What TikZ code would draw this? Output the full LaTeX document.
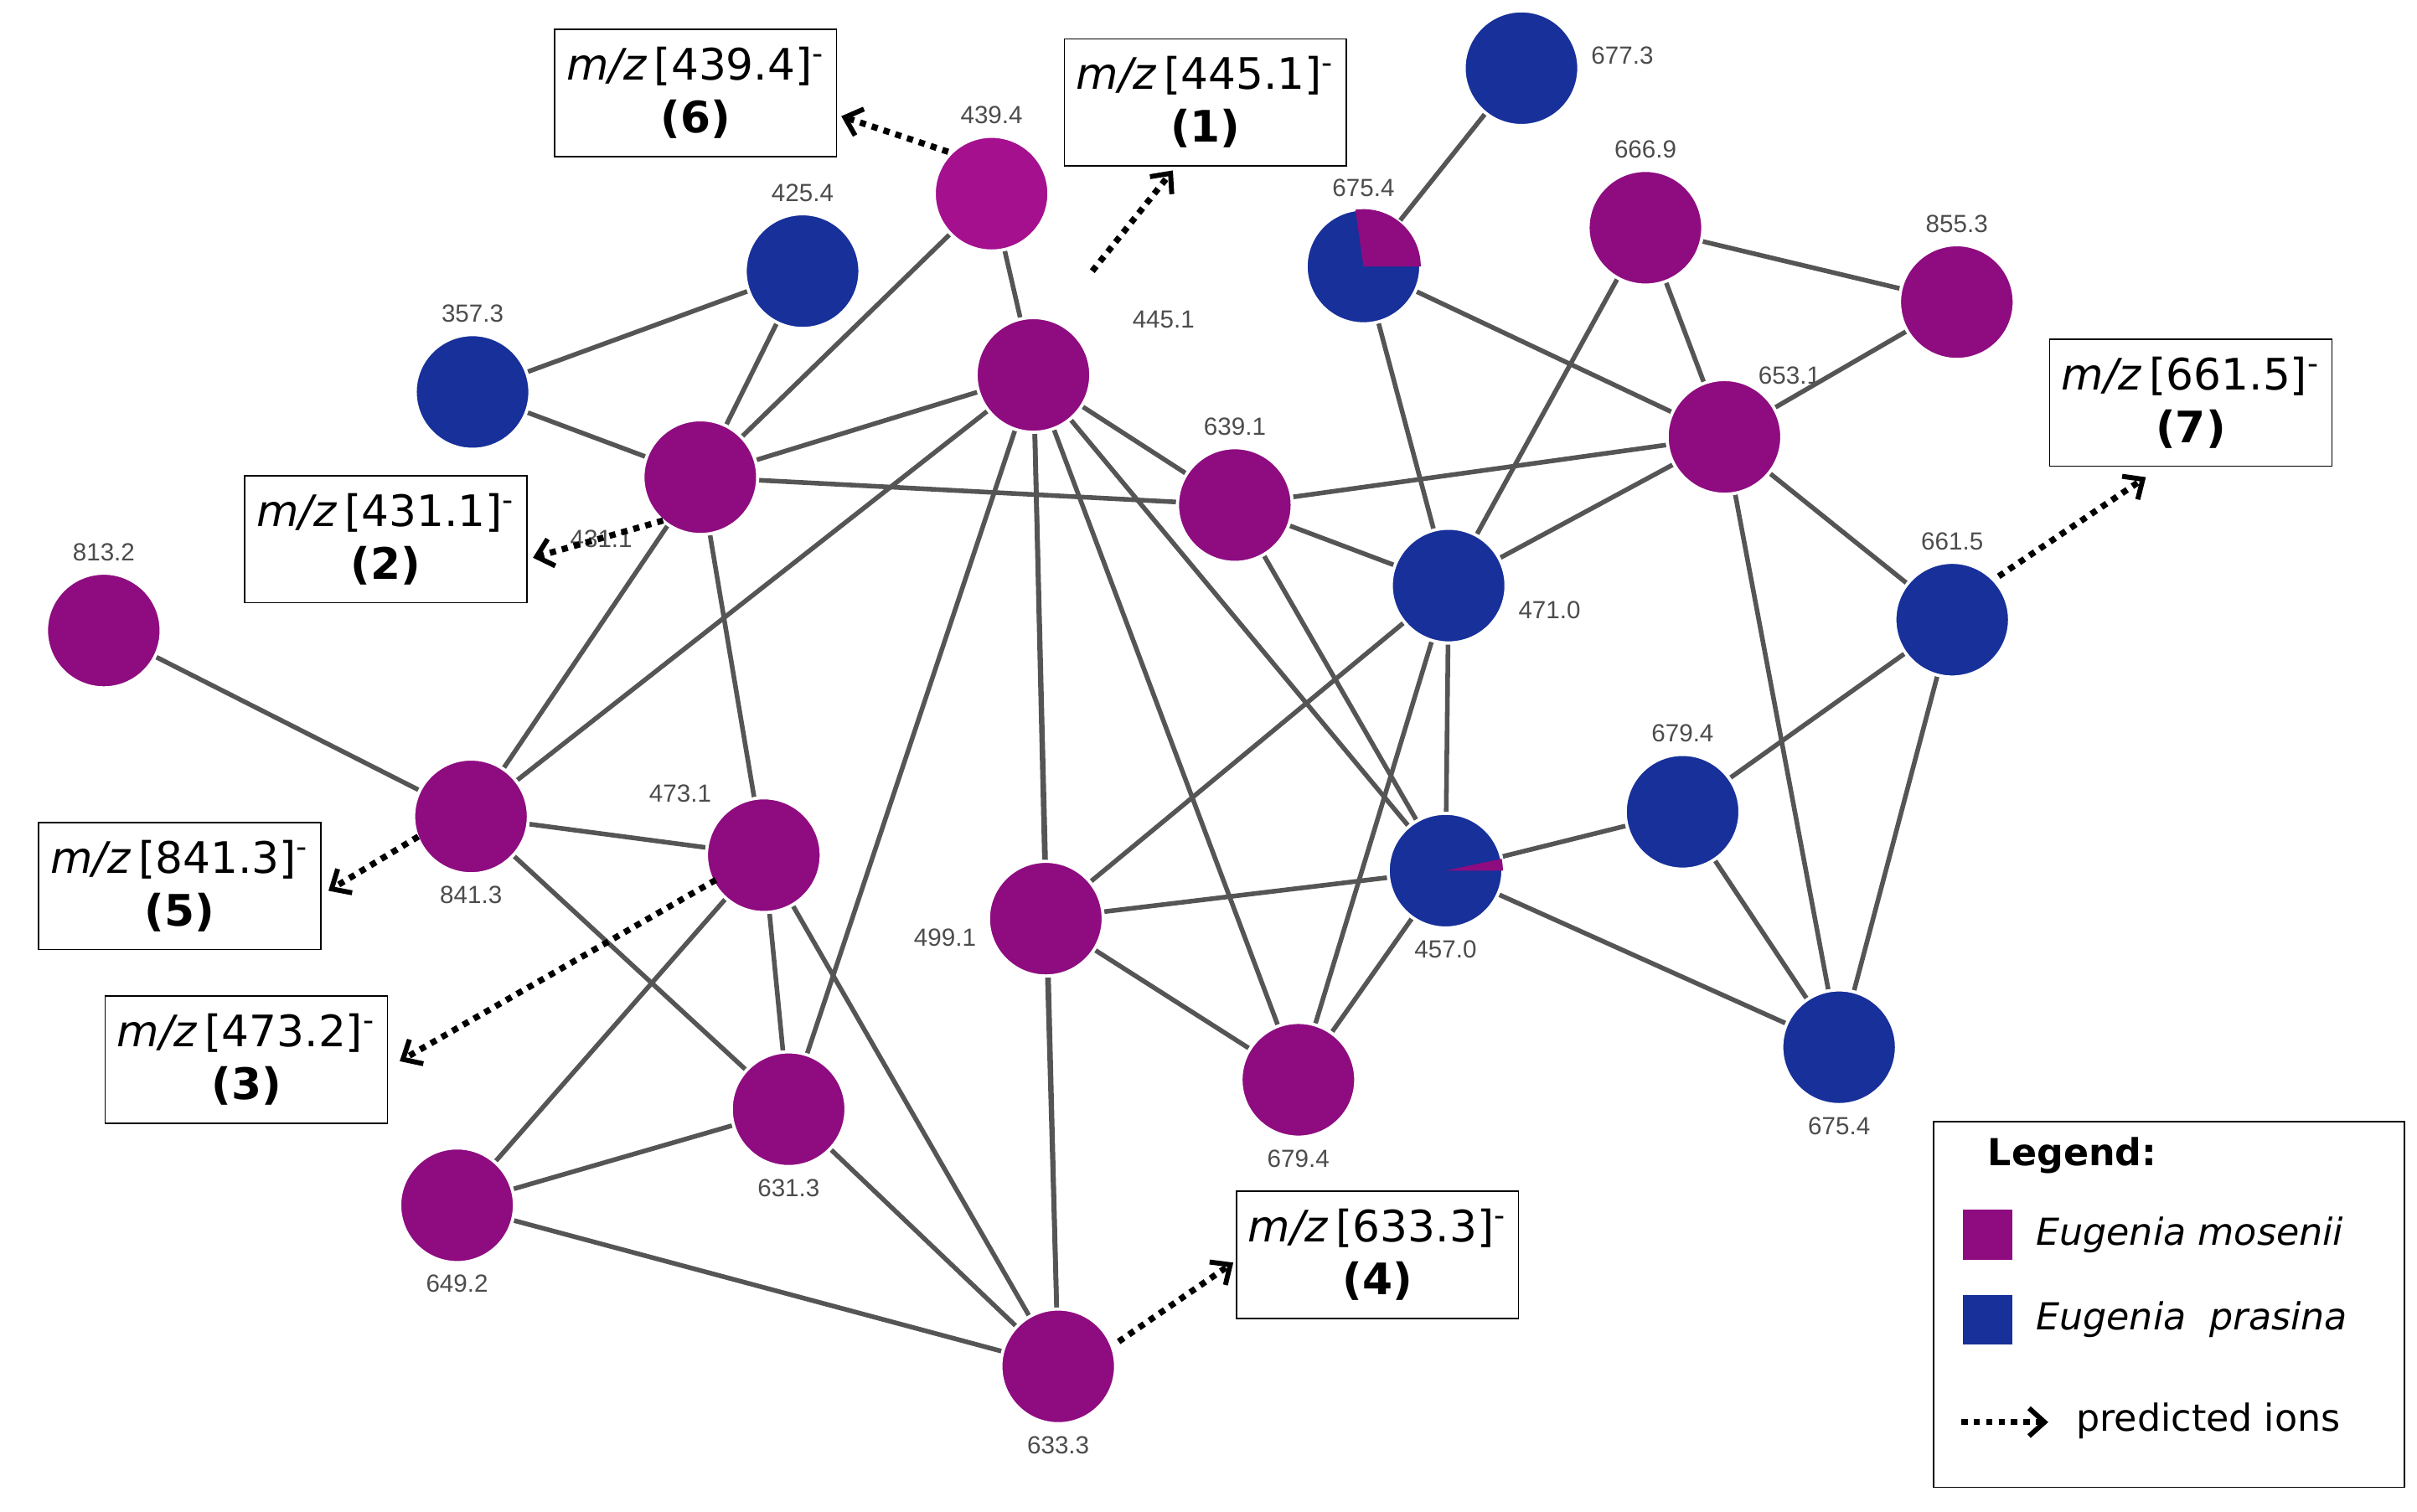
\documentclass[tikz,border=0pt]{standalone}
\usepackage{fontspec}
\setmainfont{DejaVu Sans}
\newfontfamily\lab{Liberation Sans}
\usetikzlibrary{arrows.meta}
\definecolor{mg}{HTML}{8E0C80}
\definecolor{mgl}{HTML}{A5108F}
\definecolor{bl}{HTML}{17309A}
\definecolor{eg}{HTML}{555555}
\begin{document}
\begin{tikzpicture}[x=0.5pt,y=-0.5pt,
 nd/.style={circle,minimum size=37pt,inner sep=0pt,draw=white,line width=1pt,label distance=1pt},
 lb/.style={font=\lab\fontsize{8}{9}\selectfont,text=black!70},
 mag/.style={nd,fill=mg}, blu/.style={nd,fill=bl},
 ed/.style={eg,line width=1.5pt},
 pa/.style={dotted,line width=2pt,-{Straight Barb[length=5pt,width=9pt,line width=1.6pt]}},
 bx/.style={draw,thin,fill=white,minimum width=91pt,minimum height=41pt,align=center,font=\fontsize{14}{17}\selectfont}]
\useasboundingbox (0,0) rectangle (1560,976);
% nodes
\node[mag,fill=mgl,label={[lb]above:439.4}] (a4394) at (640,125) {};
\node[blu,label={[lb]above:425.4}] (a4254) at (518,175) {};
\node[blu,label={[lb]above:357.3}] (a3573) at (305,253) {};
\node[mag,label={[lb,xshift=-5pt]below left:431.1}] (a4311) at (452,308) {};
\node[mag,label={[lb,xshift=15pt,yshift=-2pt]above right:445.1}] (a4451) at (667,242) {};
\node[mag,label={[lb]above:639.1}] (a6391) at (797,326) {};
\node[mag,label={[lb]above:813.2}] (a8132) at (67,407) {};
\node[mag,label={[lb]below:841.3}] (a8413) at (304,527) {};
\node[mag,label={[lb]above left:473.1}] (a4731) at (493,552) {};
\node[mag,label={[lb]below:631.3}] (a6313) at (509,716) {};
\node[mag,label={[lb]below:649.2}] (a6492) at (295,778) {};
\node[mag,label={[lb]below:633.3}] (a6333) at (683,882) {};
\node[mag,label={[lb,yshift=-6pt]left:499.1}] (a4991) at (675,593) {};
\node[mag,label={[lb]below:679.4}] (a6794m) at (838,697) {};
\node[blu,label={[lb]below:457.0}] (a4570) at (933,562) {};
\node[blu,label={[lb,yshift=-8pt]right:471.0}] (a4710) at (935,378) {};
\node[blu,label={[lb]above:675.4}] (a6754t) at (880,172) {};
\node[blu,label={[lb,yshift=4pt]right:677.3}] (a6773) at (982,44) {};
\node[mag,label={[lb]above:666.9}] (a6669) at (1062,147) {};
\node[mag,label={[lb]above:855.3}] (a8553) at (1263,195) {};
\node[mag,label={[lb,xshift=-6pt]above right:653.1}] (a6531) at (1113,282) {};
\node[blu,label={[lb]above:661.5}] (a6615) at (1260,400) {};
\node[blu,label={[lb]above:679.4}] (a6794b) at (1086,524) {};
\node[blu,label={[lb]below:675.4}] (a6754b) at (1187,676) {};
% edges
\foreach \u/\v in {4394/4311,4394/4451,4254/3573,4254/4311,3573/4311,4311/4451,4311/6391,4311/8413,4311/4731,
4451/6391,4451/8413,4451/4991,4451/6333,4451/6794m,4451/4570,4451/6313,
4731/8413,4731/6313,4731/6333,4731/6492,8413/8132,8413/6313,
6391/4710,6391/4570,6391/6531,4710/6754t,4710/6669,4710/6531,4710/4991,4710/4570,4710/6794m,
4570/4991,4570/6794b,4570/6754b,4570/6794m,4991/6333,4991/6794m,
6531/6669,6531/8553,6531/6615,6531/6754b,6754t/6773,6754t/6531,6669/8553,
6615/6794b,6615/6754b,6794b/6754b,6333/6313,6333/6492,6313/6492}
 \draw[ed] (a\u) -- (a\v);
% redraw nodes on top
\foreach \n/\c in {4394/mgl,4254/bl,3573/bl,4311/mg,4451/mg,6391/mg,8132/mg,8413/mg,4731/mg,6313/mg,6492/mg,6333/mg,4991/mg,6794m/mg,4570/bl,4710/bl,6754t/bl,6773/bl,6669/mg,8553/mg,6531/mg,6615/bl,6794b/bl,6754b/bl}
 \filldraw[fill=\c,draw=white,line width=1pt] (a\n.center) circle (18.5pt);
\fill[mg] (a6754t.center) -- ++(0:18.5pt) arc[start angle=0,end angle=98,radius=18.5pt] -- cycle;
\fill[mg] (a4570.center) -- ++(0:18.5pt) arc[start angle=0,end angle=12,radius=18.5pt] -- cycle;
% boxes
\newcommand\mz[2]{\textit{m/z}\,[#1]\textsuperscript{-}\\\textbf{(#2)}}
\node[bx] (b6) at (449,60) {\mz{439.4}{6}};
\node[bx] (b1) at (778,66) {\mz{445.1}{1}};
\node[bx] (b2) at (249,348) {\mz{431.1}{2}};
\node[bx] (b5) at (116,572) {\mz{841.3}{5}};
\node[bx] (b3) at (159,684) {\mz{473.2}{3}};
\node[bx] (b4) at (889,810) {\mz{633.3}{4}};
\node[bx] (b7) at (1414,260) {\mz{661.5}{7}};
\coordinate (p6s) at (612,98); \coordinate (p6e) at (543,75);
\coordinate (p1s) at (705,175); \coordinate (p1e) at (757,110);
\coordinate (p2s) at (428,336); \coordinate (p2e) at (344,360);
\coordinate (p5s) at (270,540); \coordinate (p5e) at (212,575);
\coordinate (p3s) at (462,568); \coordinate (p3e) at (258,685);
\coordinate (p4s) at (722,866); \coordinate (p4e) at (796,815);
\coordinate (p7s) at (1290,372); \coordinate (p7e) at (1385,308);
\foreach \i in {6,1,2,5,3,4,7} \draw[pa] (p\i s) -- (p\i e);
% legend
\node[draw,thin,minimum width=152pt,minimum height=118pt] (leg) at (1400,842) {};
\node[font=\bfseries\fontsize{12}{14}\selectfont,anchor=west] (lt) at (1276,746) {Legend:};
\node[fill=mg,minimum size=16pt,inner sep=0pt] (l1) at (1283,797) {};
\node[fill=bl,minimum size=16pt,inner sep=0pt] (l2) at (1283,852) {};
\node[anchor=west,font=\itshape\fontsize{12}{14}\selectfont] (t1) at (1307,797) {Eugenia mosenii};
\node[anchor=west,font=\itshape\fontsize{12}{14}\selectfont] (t2) at (1307,852) {Eugenia \ prasina};
\coordinate (l3s) at (1266,918); \coordinate (l3e) at (1322,918);
\draw[pa] (l3s) -- (l3e);
\node[anchor=west,font=\fontsize{12}{14}\selectfont] (t3) at (1333,917) {predicted ions};
\end{tikzpicture}
\end{document}
